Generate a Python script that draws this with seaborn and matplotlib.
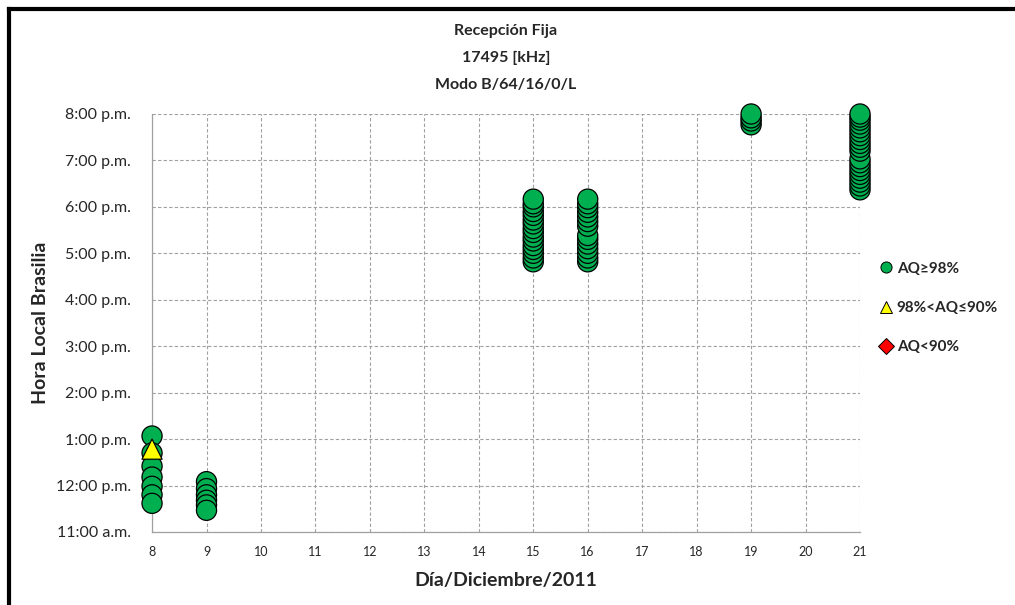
import pandas as pd
import numpy as np
import matplotlib
matplotlib.use('Agg')
import matplotlib.pyplot as plt
from matplotlib.lines import Line2D
import seaborn as sns

# Data (day of December 2011, local time)
day8_ok = ['13:04', '12:42', '12:25', '12:11', '11:59', '11:48', '11:37']
day8_mid = ['12:47']
day9_ok = ['12:05', '11:56', '11:48', '11:41', '11:35', '11:28']
day15_ok = ['16:49', '16:54', '17:00', '17:05', '17:10', '17:16', '17:21', '17:27',
            '17:32', '17:38', '17:43', '17:49', '17:54', '18:00', '18:04', '18:10']
day16_ok = ['16:49', '16:54', '17:00', '17:06', '17:12', '17:18', '17:23',
            '17:35', '17:41', '17:47', '17:53', '17:59', '18:04', '18:10']
day19_ok = ['19:46', '19:51', '19:55', '20:00']
day21_ok = ['18:22', '18:27', '18:32', '18:37', '18:42', '18:47', '18:52', '18:57',
            '19:02', '19:12', '19:17', '19:22', '19:27', '19:32', '19:37', '19:42',
            '19:47', '19:52', '19:56', '20:00']

categories = ['AQ≥98%', '98%<AQ≤90%', 'AQ<90%']
cat_colors = ['#00B050', '#FFFF00', '#FF0000']
cat_markers = ['o', '^', 'D']

x_days = list(range(8, 22))
y_hours = list(range(11, 21))
y_labels = ['11:00 a.m.', '12:00 p.m.', '1:00 p.m.', '2:00 p.m.', '3:00 p.m.',
            '4:00 p.m.', '5:00 p.m.', '6:00 p.m.', '7:00 p.m.', '8:00 p.m.']


def to_hours(times):
    return [int(t.split(':')[0]) + int(t.split(':')[1]) / 60 for t in times]


rows = []
for d, times, cat in [(8, day8_ok, categories[0]), (9, day9_ok, categories[0]),
                      (15, day15_ok, categories[0]), (16, day16_ok, categories[0]),
                      (19, day19_ok, categories[0]), (21, day21_ok, categories[0]),
                      (8, day8_mid, categories[1])]:
    for h in to_hours(times):
        rows.append({'dia': d, 'hora': h, 'cat': cat})
df = pd.DataFrame(rows)

sns.set_style('white')
plt.rcParams['font.family'] = ['Lato', 'DejaVu Sans']

fig = plt.figure(figsize=(10.15, 6.05), dpi=100)
ax = fig.add_axes([0.1498, 0.1207, 0.6975, 0.6909])

sns.scatterplot(data=df, x='dia', y='hora', hue='cat', style='cat',
                hue_order=categories[:2], style_order=categories[:2],
                palette=dict(zip(categories, cat_colors)),
                markers=dict(zip(categories, cat_markers)),
                s=210, edgecolor='black', linewidth=0.9, legend=False,
                clip_on=False, zorder=5, ax=ax)

ax.set_xlim(8, 21)
ax.set_ylim(11, 20)
ax.set_xticks(x_days)
ax.set_xticklabels([str(d) for d in x_days], fontsize=9)
ax.set_yticks(y_hours)
ax.set_yticklabels(y_labels, fontsize=11.5)
ax.tick_params(axis='y', length=0, pad=15)
ax.tick_params(axis='x', length=0, pad=10)
ax.grid(True, linestyle=(0, (3, 2)), color='#a0a0a0', linewidth=0.8)
for side in ['top', 'right']:
    ax.spines[side].set_visible(False)
for side in ['left', 'bottom']:
    ax.spines[side].set_color('#a0a0a0')
    ax.spines[side].set_linewidth(0.9)

ax.set_xlabel('Día/Diciembre/2011', fontsize=14, fontweight='bold', labelpad=10)
ax.set_ylabel('Hora Local Brasilia', fontsize=14, fontweight='bold', labelpad=5)

fig.text(0.4985, 0.948, 'Recepción Fija', ha='center', va='center',
         fontsize=11.5, fontweight='bold')
fig.text(0.4985, 0.904, '17495 [kHz]', ha='center', va='center',
         fontsize=11.5, fontweight='bold')
fig.text(0.4985, 0.859, 'Modo B/64/16/0/L', ha='center', va='center',
         fontsize=11.5, fontweight='bold')

handles = [Line2D([0], [0], marker=m, color='none', markerfacecolor=c,
                  markeredgecolor='black', markeredgewidth=0.7, markersize=8)
           for m, c in zip(cat_markers, cat_colors)]
leg = fig.legend(handles, categories, loc='upper left',
                 bbox_to_anchor=(0.855, 0.59), frameon=False,
                 handlelength=0.6, handletextpad=0.4, labelspacing=1.65,
                 prop={'weight': 'bold', 'size': 11})

# outer chart frame: only left and top edges fall inside the picture
fig.add_artist(Line2D([0.0084, 0.0084], [0.0, 0.985], transform=fig.transFigure,
                      color='black', linewidth=3, solid_capstyle='projecting'))
fig.add_artist(Line2D([0.0084, 1.0], [0.985, 0.985], transform=fig.transFigure,
                      color='black', linewidth=3, solid_capstyle='projecting'))

fig.savefig('out.png', dpi=100)
